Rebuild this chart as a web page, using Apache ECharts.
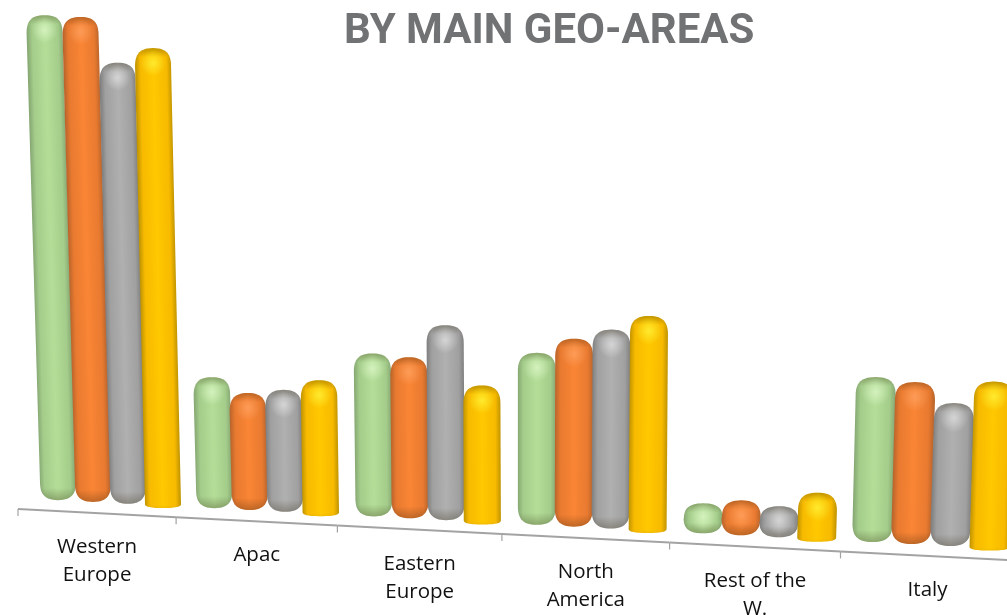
<!DOCTYPE html>
<html><head><meta charset="utf-8">
<style>html,body{margin:0;padding:0;background:#fff;overflow:hidden}#c{width:1007px;height:615px}</style>
<script src="https://cdn.jsdelivr.net/npm/echarts@6/dist/echarts.min.js"></script>
</head><body><div id="c"></div>
<script>
const titleText = 'BY MAIN GEO-AREAS';
const categories = ['Western\nEurope', 'Apac', 'Eastern\nEurope', 'North\nAmerica', 'Rest of the\nW.', 'Italy'];
const seriesGreen  = [485, 131, 163, 172, 30, 165];
const seriesOrange = [485, 117, 161, 188, 35, 162];
const seriesGray   = [441, 122, 195, 199, 31, 143];
const seriesYellow = [460, 136, 139, 217, 49, 169];

const palettes = [
  {name:'Green',  data:seriesGreen,  edge:'#86a873', mid:'#a4cc8a', light:'#b4de98', glow:'rgba(225,250,205,0.7)'},
  {name:'Orange', data:seriesOrange, edge:'#b9642c', mid:'#e87a30', light:'#fa8535', glow:'rgba(255,170,110,0.6)'},
  {name:'Gray',   data:seriesGray,   edge:'#7f7f7f', mid:'#a0a0a0', light:'#b0b0b0', glow:'rgba(225,225,225,0.75)'},
  {name:'Yellow', data:seriesYellow, edge:'#c09400', mid:'#f7ba00', light:'#ffc800', glow:'rgba(255,245,60,0.75)'}
];

const G = {left:18, width:989, top:9, height:500};
const SLOPE = 0.0516;
const warp = u => G.left + 156.5*u + 1.6*u*u;       // perspective along the floor
const tilt = x => SLOPE*(x - G.left);               // floor falls to the right

function cubic(p0,p1,p2,p3,n,out){
  for(let i=1;i<=n;i++){const t=i/n,m=1-t;
    out.push([m*m*m*p0[0]+3*m*m*t*p1[0]+3*m*t*t*p2[0]+t*t*t*p3[0],
              m*m*m*p0[1]+3*m*m*t*p1[1]+3*m*t*t*p2[1]+t*t*t*p3[1]]);}
}
function barPoints(xb,yb,w,h,lean,flat){
  const dx=lean*h, xt=xb-dx, yt=yb-h;
  const ryT=Math.min(flat?h*0.6:h/2,18), rxT=w*0.5;
  const ryB=flat?4:Math.min(h/2,18), rxB=w*0.5;
  const k=0.3, pts=[[xt,yt+ryT]];
  cubic([xt,yt+ryT],[xt,yt+ryT*k],[xt+rxT*k,yt],[xt+rxT,yt],14,pts);
  cubic([xt+w-rxT,yt],[xt+w-rxT*k,yt],[xt+w,yt+ryT*k],[xt+w,yt+ryT],14,pts);
  pts.push([xb+w,yb-ryB]);
  cubic([xb+w,yb-ryB],[xb+w,yb-ryB*k],[xb+w-rxB*k,yb],[xb+w-rxB,yb],14,pts);
  cubic([xb+rxB,yb],[xb+rxB*k,yb],[xb,yb-ryB*k],[xb,yb-ryB],14,pts);
  return {pts,xt,yt};
}
function barRender(sIdx,pal){
  return function(params,api){
    const i=api.value(0), v=api.value(1);
    const c0=api.coord([i,0]), c1=api.coord([i,v]);
    const bw=api.size([1,0])[0];
    const u=(c0[0]-G.left)/bw-0.5;
    const step=35+0.4*u+0.08*u*u;
    const xb=warp(u)+22-2*u+sIdx*step;
    const flat=sIdx===3;
    const yb=c0[1]+tilt(xb)-(flat?7.5:10);
    const h=c0[1]-c1[1];
    const lean=0.03*(1-xb/520);
    const w=step+1;
    const {pts,xt,yt}=barPoints(xb,yb,w,h,lean,flat);
    // gradient isolines run along the leaning bar
    const len=Math.hypot(1,lean), ux=1/len, uy=-lean/len;
    const body=new echarts.graphic.LinearGradient(xb,yb,xb+ux*w,yb+uy*w,[
      {offset:0,color:pal.edge},{offset:.14,color:pal.mid},{offset:.5,color:pal.light},
      {offset:.86,color:pal.mid},{offset:1,color:pal.edge}],true);
    const rim=Math.min(h*0.3,9);
    const topShade=new echarts.graphic.LinearGradient(0,yt,0,yt+rim,[
      {offset:0,color:'rgba(40,30,0,0.28)'},{offset:1,color:'rgba(40,30,0,0)'}],true);
    const botR=flat?3:Math.min(h*0.35,12);
    const botShade=new echarts.graphic.LinearGradient(0,yb-botR,0,yb,[
      {offset:0,color:'rgba(40,30,0,0)'},{offset:1,color:flat?'rgba(40,30,0,0.05)':'rgba(40,30,0,0.28)'}],true);
    const glowY=yt+Math.min(h*0.45,15);
    const glow=new echarts.graphic.RadialGradient(xt+w/2,glowY,w*0.36,[
      {offset:0,color:pal.glow},{offset:1,color:pal.glow.replace(/[\d.]+\)$/,'0)')}],true);
    const make=fill=>({type:'polygon',shape:{points:pts},style:{fill},silent:true});
    return {type:'group',children:[make(body),make(topShade),make(botShade),make(glow)]};
  };
}
function axisRender(params,api){
  const i=api.value(0);
  const cx=api.coord([i,0]);
  const bw=api.size([1,0])[0];
  const u=(cx[0]-G.left)/bw-0.5;
  const x0=warp(u), x1=warp(u+1), y=cx[1];
  const ya=y+tilt(x0), yb=y+tilt(x1), mx=(x0+x1)/2;
  return {type:'group',children:[
    {type:'line',shape:{x1:x0,y1:ya,x2:x1,y2:yb},style:{stroke:'#a3a3a3',lineWidth:2}},
    {type:'line',shape:{x1:x0,y1:ya,x2:x0,y2:ya+7},style:{stroke:'#a3a3a3',lineWidth:1.2}},
    {type:'text',style:{text:categories[i],x:mx,y:y+tilt(mx)+20,textAlign:'center',textVerticalAlign:'top',
      fontFamily:'Open Sans',fontSize:20.5,lineHeight:28,fill:'#111'}}
  ]};
}
const chart=echarts.init(document.getElementById('c'),null,{renderer:'canvas'});
chart.setOption({
  animation:false,
  backgroundColor:'#fff',
  title:{text:titleText,left:344,top:11,padding:0,
    textStyle:{fontFamily:'Roboto',fontWeight:'bold',fontSize:42,color:'#707274'}},
  grid:{left:G.left,top:G.top,width:G.width,height:G.height},
  xAxis:{type:'category',data:categories,show:false},
  yAxis:{type:'value',min:0,max:G.height,show:false},
  series:[
    {type:'custom',name:'Axis',clip:false,z:1,renderItem:axisRender,
     data:categories.map((c,i)=>[i,0]),encode:{x:0,y:1},silent:true}
  ].concat(palettes.map((p,s)=>({
    type:'custom',name:p.name,clip:false,z:2+s,renderItem:barRender(s,p),
    data:p.data.map((v,i)=>[i,v]),encode:{x:0,y:1},silent:true
  })))
});
</script></body></html>
